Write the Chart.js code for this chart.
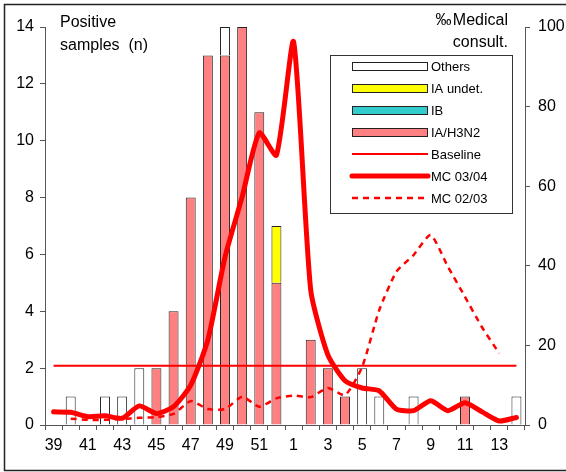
<!DOCTYPE html>
<html>
<head>
<meta charset="utf-8">
<script src="https://cdn.jsdelivr.net/npm/chart.js@4/dist/chart.umd.min.js"></script>
<style>
  body { margin: 0; background: #fff; }
  #wrap { width: 566px; height: 472px; }
</style>
</head>
<body>
<div id="wrap"><canvas id="fluChart"></canvas></div>
<script>
// weeks 39..52 of 2003, then 1..14 of 2004
const weeks = ['39', '40', '41', '42', '43', '44', '45', '46', '47', '48', '49', '50', '51', '52',
  '1', '2', '3', '4', '5', '6', '7', '8', '9', '10', '11', '12', '13', '14'];

// positive samples (n), stacked
const h3n2   = [0, 0, 0, 0, 0, 0, 2, 4, 8, 13, 13, 14, 11, 5, 0, 3, 2, 1, 0, 0, 0, 0, 0, 0, 1, 0, 0, 0];
const ib     = [0, 0, 0, 0, 0, 0, 0, 0, 0, 0, 0, 0, 0, 0, 0, 0, 0, 0, 0, 0, 0, 0, 0, 0, 0, 0, 0, 0];
const iaUndet = [0, 0, 0, 0, 0, 0, 0, 0, 0, 0, 0, 0, 0, 2, 0, 0, 0, 0, 0, 0, 0, 0, 0, 0, 0, 0, 0, 0];
const others = [0, 1, 0, 1, 1, 2, 0, 0, 0, 0, 1, 0, 0, 0, 0, 0, 0, 0, 2, 1, 0, 1, 0, 0, 0, 0, 0, 1];

// medical consultations per 1000
const mc0304 = [3.3, 3.2, 2.1, 2.3, 1.7, 4.8, 2.9, 4.6, 10, 21.4, 42.2, 57.3, 73.4, 67.8,
  96.3, 33.9, 17.6, 11.1, 9.3, 8.6, 4, 3.6, 6.1, 3.6, 5.6, 3.3, 1, 1.9];
const mc0203 = [null, 1.6, 1.3, 1.3, 1.5, 1.8, 2, 2.8, 6, 4, 4, 7.1, 4.6, 6.7,
  7.4, 7, 9.3, 7.5, 14.6, 28.9, 38.5, 42.7, 47.7, 39.8, 32.2, 24.5, 18, null];
const baseline = [14.9, 14.9, 14.9, 14.9, 14.9, 14.9, 14.9, 14.9, 14.9, 14.9, 14.9, 14.9, 14.9, 14.9,
  14.9, 14.9, 14.9, 14.9, 14.9, 14.9, 14.9, 14.9, 14.9, 14.9, 14.9, 14.9, 14.9, 14.9];

const FONT = 'Liberation Sans, Arial, sans-serif';
const RED = '#FF0000';

function barSet(label, data, color) {
  return {
    type: 'bar', label: label, data: data, yAxisID: 'y', order: 3,
    backgroundColor: color, borderColor: '#222222', borderWidth: 1,
    barPercentage: 0.58, categoryPercentage: 1
  };
}

// frame, axis captions and the boxed legend
const decorations = {
  id: 'decorations',
  afterDraw(chart) {
    const ctx = chart.ctx;
    ctx.save();
    ctx.strokeStyle = '#222';
    ctx.lineWidth = 1.5;
    ctx.beginPath();
    ctx.moveTo(566, 4.5); ctx.lineTo(4.5, 4.5); ctx.lineTo(4.5, 470.5); ctx.lineTo(566, 470.5);
    ctx.stroke();

    ctx.fillStyle = '#000';
    ctx.font = '16px ' + FONT;
    ctx.textBaseline = 'alphabetic';
    ctx.textAlign = 'left';
    ctx.fillText('Positive', 60, 27);
    ctx.fillText('samples  (n)', 60, 50);
    ctx.textAlign = 'right';
    ctx.fillText('\u2030\u200aMedical', 508, 25);
    ctx.fillText('consult.', 508, 47);

    // legend
    const lx = 330, ly = 55, lw = 182, lh = 158;
    ctx.fillStyle = '#fff';
    ctx.fillRect(lx, ly, lw, lh);
    ctx.strokeStyle = '#333';
    ctx.lineWidth = 1;
    ctx.strokeRect(lx + 0.5, ly + 0.5, lw, lh);

    const items = [
      { text: 'Others', fill: '#FFFFFF' },
      { text: 'IA undet.', fill: '#FFFF00' },
      { text: 'IB', fill: '#33CCCC' },
      { text: 'IA/H3N2', fill: '#FF8080' },
      { text: 'Baseline', line: 2 },
      { text: 'MC 03/04', line: 5 },
      { text: 'MC 02/03', line: 2.5, dash: [6, 5] }
    ];
    ctx.font = '13px ' + FONT;
    ctx.textAlign = 'left';
    ctx.textBaseline = 'middle';
    items.forEach((it, i) => {
      const y = 66 + i * 22;
      if (it.fill) {
        ctx.fillStyle = it.fill;
        ctx.fillRect(352, y - 4, 75, 8);
        ctx.strokeStyle = '#222';
        ctx.lineWidth = 1;
        ctx.strokeRect(352.5, y - 3.5, 75, 8);
      } else {
        ctx.strokeStyle = RED;
        ctx.lineWidth = it.line;
        ctx.lineCap = it.line > 3 ? 'round' : 'butt';
        ctx.setLineDash(it.dash || []);
        ctx.beginPath();
        ctx.moveTo(352, y); ctx.lineTo(428, y);
        ctx.stroke();
        ctx.setLineDash([]);
      }
      ctx.fillStyle = '#000';
      ctx.fillText(it.text, 431, y + 1);
    });
    ctx.restore();
  }
};

const ctx = document.getElementById('fluChart').getContext('2d');
new Chart(ctx, {
  data: {
    labels: weeks,
    datasets: [
      {
        type: 'line', label: 'MC 03/04', data: mc0304, yAxisID: 'y2', order: 0,
        borderColor: RED, borderWidth: 5, pointRadius: 0, tension: 0.2,
        borderCapStyle: 'round', borderJoinStyle: 'round', fill: false
      },
      {
        type: 'line', label: 'MC 02/03', data: mc0203, yAxisID: 'y2', order: 1,
        borderColor: RED, borderWidth: 2.5, borderDash: [6, 5], pointRadius: 0, tension: 0.2, fill: false
      },
      {
        type: 'line', label: 'Baseline', data: baseline, yAxisID: 'y2', order: 2,
        borderColor: RED, borderWidth: 2, pointRadius: 0, fill: false
      },
      barSet('IA/H3N2', h3n2, '#FF8080'),
      barSet('IB', ib, '#33CCCC'),
      barSet('IA undet.', iaUndet, '#FFFF00'),
      barSet('Others', others, '#FFFFFF')
    ]
  },
  options: {
    responsive: true,
    maintainAspectRatio: false,
    animation: false,
    layout: { padding: { top: 27, left: 0, right: 0, bottom: 0 } },
    plugins: {
      legend: { display: false },
      tooltip: { enabled: false }
    },
    scales: {
      x: {
        stacked: true,
        offset: true,
        grid: { offset: true, drawOnChartArea: false, tickLength: 5, color: '#555' },
        border: { color: '#555' },
        ticks: {
          autoSkip: false, maxRotation: 0, color: '#000', padding: 6,
          font: { family: FONT, size: 16 },
          callback: (v, i) => (i % 2 === 0 ? weeks[i] : '')
        },
        afterFit: (s) => { s.height = 47; }
      },
      y: {
        position: 'left',
        stacked: true,
        min: 0, max: 14,
        ticks: { stepSize: 2, color: '#000', padding: 6, font: { family: FONT, size: 16 } },
        grid: { drawOnChartArea: false, tickLength: 5, color: '#555' },
        border: { color: '#555' },
        afterFit: (s) => { s.width = 45; }
      },
      y2: {
        position: 'right',
        min: 0, max: 100,
        ticks: { stepSize: 20, color: '#000', padding: 8, font: { family: FONT, size: 16 } },
        grid: { drawOnChartArea: false, tickLength: 5, color: '#555' },
        border: { color: '#555' },
        afterFit: (s) => { s.width = 41; }
      }
    }
  },
  plugins: [decorations]
});
</script>
</body>
</html>
